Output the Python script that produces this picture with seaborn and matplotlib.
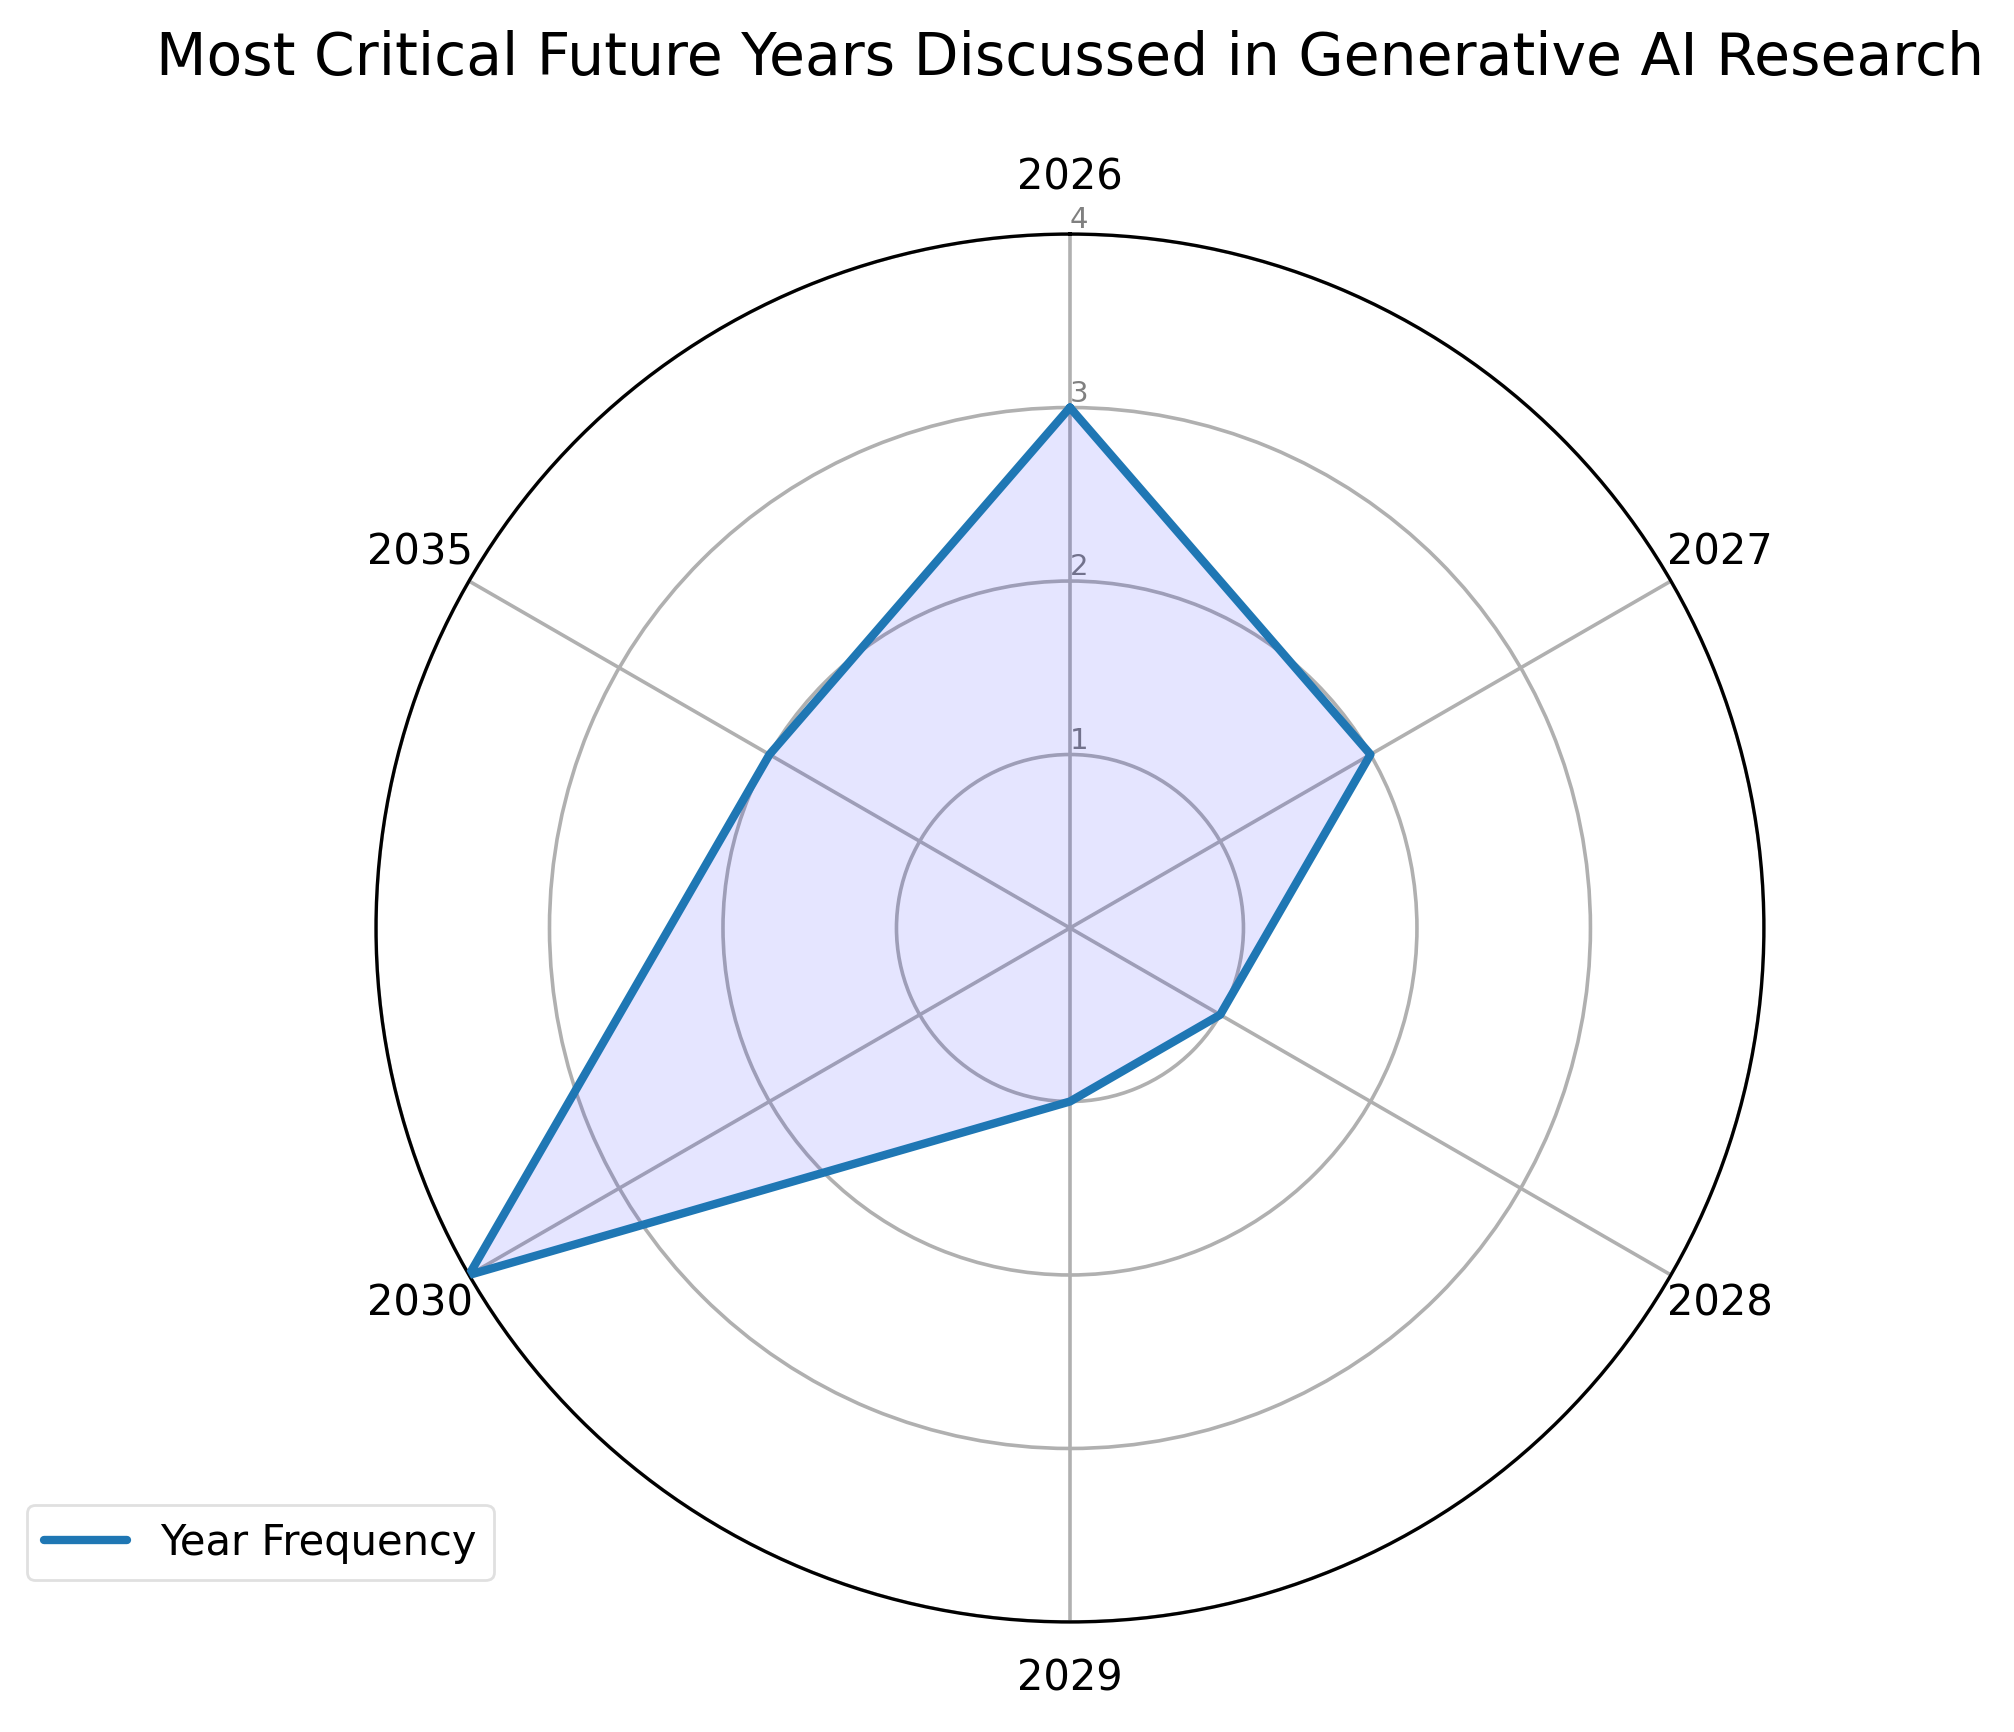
import numpy as np
import pandas as pd
import matplotlib
matplotlib.use("Agg")
import matplotlib.pyplot as plt
import seaborn as sns

years = ["2026", "2027", "2028", "2029", "2030", "2035"]
frequency = [3, 2, 1, 1, 4, 2]
radial_ticks = [1, 2, 3, 4]
series_name = "Year Frequency"
title = "Most Critical Future Years Discussed in Generative AI Research"

sns.set_style("white")
plt.rcParams['font.family'] = ['DejaVu Sans']
plt.rcParams['text.color'] = 'black'
plt.rcParams['xtick.color'] = 'black'

n = len(years)
angles = np.linspace(0, 2 * np.pi, n, endpoint=False).tolist()
angles_closed = angles + [2 * np.pi]
vals_closed = frequency + frequency[:1]
df = pd.DataFrame({"angle": angles_closed, "value": vals_closed})

fig = plt.figure(figsize=(10.075, 8.66), dpi=200)
ax = fig.add_axes([0.1866, 0.0635, 0.6888, 0.8014], projection="polar")
ax.set_theta_offset(np.pi / 2)
ax.set_theta_direction(-1)

ax.fill(df["angle"], df["value"], color="blue", alpha=0.1, zorder=2)
sns.lineplot(data=df, x="angle", y="value", sort=False, estimator=None, ax=ax,
             color="#1f77b4", linewidth=3, label=series_name, legend=False, zorder=3)

ax.set_xticks(angles)
ax.set_xticklabels(years, fontsize=15, color="black")
ax.tick_params(axis="x", pad=10)
ax.set_ylim(0, 4)
ax.set_yticks(radial_ticks)
ax.set_yticklabels([str(t) for t in radial_ticks], color="grey", fontsize=10.5)
ax.set_rlabel_position(0)
ax.set_xlabel("")
ax.set_ylabel("")
ax.grid(True, color="#b0b0b0", linewidth=1.3)
ax.spines["polar"].set_color("black")
ax.spines["polar"].set_linewidth(1.2)

fig.text(1070 / 2015, 1 - 58 / 1732, title, fontsize=21, ha="center", va="center",
         color="black")

handles, labels = ax.get_legend_handles_labels()
fig.legend(handles, labels, loc="upper left", bbox_to_anchor=(27 / 2015, 1 - 1505 / 1732),
           borderaxespad=0, fontsize=15, edgecolor="#d9d9d9")

fig.savefig("out.png", dpi=200)
